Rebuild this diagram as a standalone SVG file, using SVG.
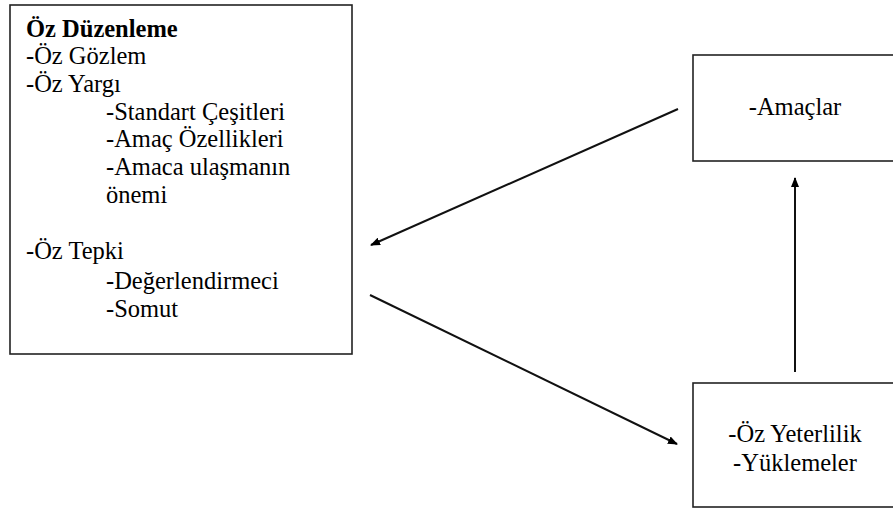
<svg xmlns="http://www.w3.org/2000/svg" width="893" height="509" viewBox="0 0 893 509">
<defs>
<marker id="ah" markerWidth="10" markerHeight="8" refX="9" refY="4" orient="auto" markerUnits="userSpaceOnUse">
<path d="M0,0 L10,4 L0,8 z" fill="#000"/>
</marker>
<style>
.box{fill:#fff;stroke:#222;stroke-width:1.6}
.t{font-family:"Liberation Serif","Times New Roman",serif;font-size:24.5px;fill:#000}
.b{font-weight:bold}
.c{stroke:#111;stroke-width:2;fill:none;marker-end:url(#ah)}
</style>
</defs>
<rect width="893" height="509" fill="#fff"/>
<g id="oz-duzenleme">
<rect class="box" x="10" y="5" width="342" height="349"/>
<text class="t b" x="26" y="37">Öz Düzenleme</text>
<text class="t" x="26" y="64">-Öz Gözlem</text>
<text class="t" x="26" y="92">-Öz Yargı</text>
<text class="t" x="106" y="120">-Standart Çeşitleri</text>
<text class="t" x="106" y="147">-Amaç Özellikleri</text>
<text class="t" x="106" y="175">-Amaca ulaşmanın</text>
<text class="t" x="106" y="203">önemi</text>
<text class="t" x="26" y="259">-Öz Tepki</text>
<text class="t" x="106" y="289">-Değerlendirmeci</text>
<text class="t" x="106" y="317">-Somut</text>
</g>
<g id="amaclar">
<rect class="box" x="693" y="55" width="205" height="106"/>
<text class="t" x="795" y="115" text-anchor="middle">-Amaçlar</text>
</g>
<g id="oz-yeterlilik">
<rect class="box" x="693" y="383" width="205" height="124"/>
<text class="t" x="795" y="442" text-anchor="middle">-Öz Yeterlilik</text>
<text class="t" x="795" y="471" text-anchor="middle">-Yüklemeler</text>
</g>
<g id="connectors">
<line class="c" x1="678" y1="109" x2="371" y2="245"/>
<line class="c" x1="370" y1="295" x2="677" y2="444"/>
<line class="c" x1="795" y1="372" x2="795" y2="178"/>
</g>
</svg>
